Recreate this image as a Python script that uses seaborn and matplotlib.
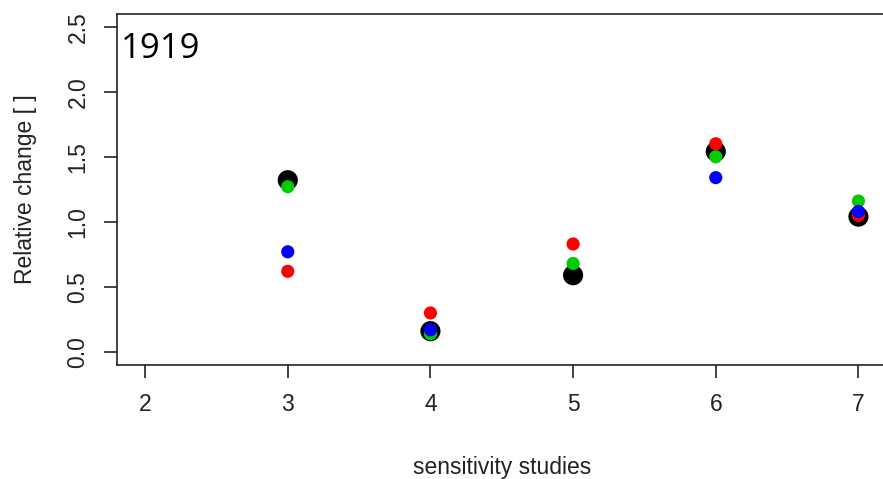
import matplotlib
matplotlib.use("Agg")
import matplotlib.pyplot as plt
import seaborn as sns
import pandas as pd
import numpy as np

studies = [3, 4, 5, 6, 7]
black_vals = [1.32, 0.16, 0.59, 1.54, 1.04]
red_vals = [0.62, 0.30, 0.83, 1.60, 1.05]
green_vals = [1.27, 0.14, 0.68, 1.50, 1.16]
blue_vals = [0.77, 0.17, np.nan, 1.34, 1.08]
series_names = ["black", "red", "green", "blue"]
series_colors = ["#000000", "#FF0000", "#00CD00", "#0000FF"]
x_ticks = [2, 3, 4, 5, 6, 7]
y_ticks = [0.0, 0.5, 1.0, 1.5, 2.0, 2.5]
panel_label = "1919"

sns.set_theme(style="white")
plt.rcParams["font.family"] = ["Liberation Sans", "DejaVu Sans"]

rows = []
for name, vals in zip(series_names, [black_vals, red_vals, green_vals, blue_vals]):
    for s, v in zip(studies, vals):
        rows.append({"study": s, "value": v, "series": name})
df = pd.DataFrame(rows).dropna()

fig = plt.figure(figsize=(8.83, 4.79), dpi=100)
ax = fig.add_axes([0.132, 0.238, 0.8725, 0.7335])

sizes = {"black": 210, "red": 90, "green": 90, "blue": 90}
for name, col in zip(series_names, series_colors):
    sub = df[df["series"] == name]
    sns.scatterplot(data=sub, x="study", y="value", color=col, s=sizes[name],
                    edgecolor="none", linewidth=0, ax=ax, legend=False, zorder=3)

ax.set_xlim(1.8, 7.2)
ax.set_ylim(-0.1, 2.6)
ax.set_xticks(x_ticks)
ax.set_xticklabels([str(t) for t in x_ticks])
ax.set_yticks(y_ticks)
ax.set_yticklabels([f"{t:.1f}" for t in y_ticks], rotation=90, va="center")
ax.tick_params(axis="both", direction="out", length=9.5, width=1.2, color="#222222",
               labelsize=16.5, labelcolor="#222222", bottom=True, left=True)
ax.tick_params(axis="x", pad=11)
ax.tick_params(axis="y", pad=10)
for sp in ax.spines.values():
    sp.set_visible(True)
    sp.set_color("#222222")
    sp.set_linewidth(1.2)

ax.set_xlabel("sensitivity studies", fontsize=16.5, color="#222222", labelpad=28.5)
ax.set_ylabel("Relative change [ ]", fontsize=16.5, color="#222222", labelpad=21.5)
ax.text(0.006, 0.875, panel_label, transform=ax.transAxes, ha="left", va="baseline",
        fontsize=25, family=["Open Sans", "DejaVu Sans"], color="black")

fig.savefig("out.png", dpi=100)
